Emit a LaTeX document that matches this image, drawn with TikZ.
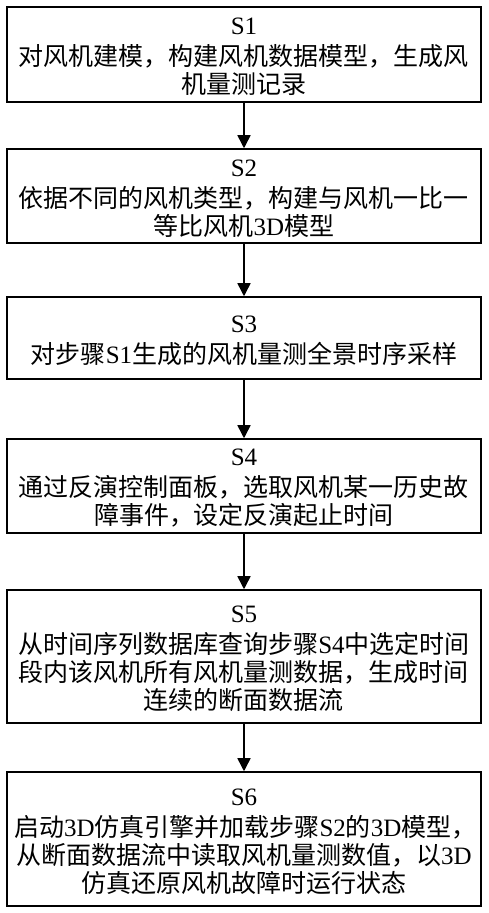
\documentclass[tikz,border=0pt]{standalone}
\usepackage{fontspec}
\setmainfont{Noto Sans CJK SC}
\newfontfamily\lat{Liberation Serif}
\usetikzlibrary{arrows.meta}
\begin{document}
\begin{tikzpicture}[x=1pt,y=1pt,
  stepbox/.style={draw=black,line width=1.5pt,minimum width=474pt,inner sep=0pt},
  steptext/.style={text width=460pt,inner sep=0pt,align=center,
    font=\fontsize{25}{28}\selectfont},
  flow/.style={line width=1.5pt,-{Triangle[width=13pt,length=13pt]}}]
\useasboundingbox (0,0) rectangle (488,913);
\node[stepbox,minimum height=95pt] (s1) at (244,{913-54.5}) {};
\node[stepbox,minimum height=94pt] (s2) at (244,{913-196}) {};
\node[stepbox,minimum height=82pt] (s3) at (244,{913-338}) {};
\node[stepbox,minimum height=94pt] (s4) at (244,{913-486}) {};
\node[stepbox,minimum height=133pt] (s5) at (244,{913-656.5}) {};
\node[stepbox,minimum height=134pt] (s6) at (244,{913-839}) {};
\node[steptext] (t1) at ([yshift=-2.5pt]s1.center)
 {{\lat S1}\\[3pt]对风机建模，构建风机数据模型，生成风\\机量测记录};
\node[steptext] (t2) at ([yshift=-2.5pt]s2.center)
 {{\lat S2}\\[3pt]依据不同的风机类型，构建与风机一比一\\等比风机{\lat 3D}模型};
\node[steptext] (t3) at ([yshift=-2.5pt]s3.center)
 {{\lat S3}\\[3pt]对步骤{\lat S1}生成的风机量测全景时序采样};
\node[steptext] (t4) at ([yshift=-2.5pt]s4.center)
 {{\lat S4}\\[3pt]通过反演控制面板，选取风机某一历史故\\障事件，设定反演起止时间};
\node[steptext] (t5) at ([yshift=-2.5pt]s5.center)
 {{\lat S5}\\[3pt]从时间序列数据库查询步骤{\lat S4}中选定时间\\段内该风机所有风机量测数据，生成时间\\连续的断面数据流};
\node[steptext] (t6) at ([yshift=-2.5pt]s6.center)
 {{\lat S6}\\[3pt]启动{\lat 3D}仿真引擎并加载步骤{\lat S2}的{\lat 3D}模型，\\从断面数据流中读取风机量测数值，以{\lat 3D}\\仿真还原风机故障时运行状态};
\draw[flow] (s1) -- (s2);
\draw[flow] (s2) -- (s3);
\draw[flow] (s3) -- (s4);
\draw[flow] (s4) -- (s5);
\draw[flow] (s5) -- (s6);
\end{tikzpicture}
\end{document}
